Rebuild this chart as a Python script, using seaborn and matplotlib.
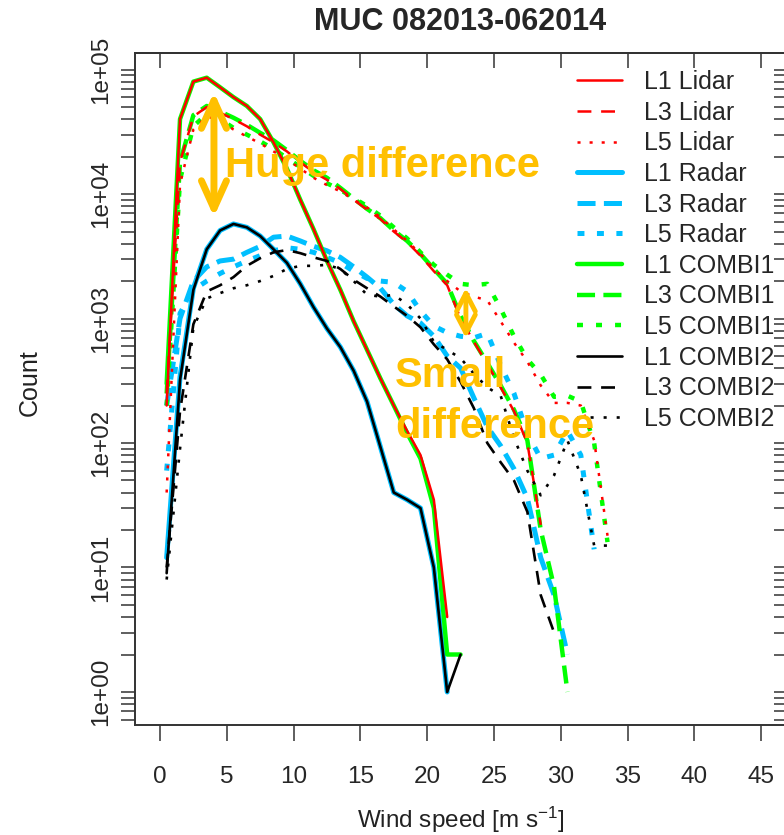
import matplotlib
matplotlib.use("Agg")
import matplotlib.pyplot as plt
import seaborn as sns
import pandas as pd
from matplotlib.lines import Line2D
from matplotlib.ticker import LogLocator, NullFormatter, FixedLocator, FuncFormatter

# ---------------- data ----------------
speed = [0.5, 1.5, 2.5, 3.5, 4.5, 5.5, 6.5, 7.5, 8.5, 9.5, 10.5, 11.5, 12.5, 13.5,
         14.5, 15.5, 16.5, 17.5, 18.5, 19.5, 20.5, 21.5, 22.5, 23.5, 24.5, 25.5,
         26.5, 27.5, 28.5, 29.5, 30.5, 31.5, 32.5, 33.5]

l1_lidar = [200, 40000, 80000, 86000, 72000, 60000, 51000, 40000, 26000, 16000, 9000,
            5200, 2900, 1700, 950, 560, 330, 200, 125, 80, 35, 4]
l3_lidar = [250, 18000, 42000, 50000, 45000, 40000, 35000, 30000, 26000, 22000, 18000,
            15000, 13000, 11000, 9000, 7500, 6300, 5000, 4100, 3200, 2400, 1850, 1000,
            650, 430, 280, 180, 100, 22]
l5_lidar = [40, 12000, 33000, 42000, 39000, 33000, 29000, 25500, 22000, 19000, 16000,
            13500, 11800, 10500, 9000, 7800, 6500, 5200, 4200, 3300, 2500, 2000, 1650,
            1500, 1400, 950, 640, 450, 290, 210, 210, 200, 105, 18]

l1_radar = [12, 340, 1750, 3600, 5100, 5750, 5400, 4600, 3600, 2800, 1900, 1230, 830,
            590, 380, 215, 93, 40, 35, 30, 10, 1]
l3_radar = [200, 1000, 2000, 2600, 2900, 3000, 3400, 3800, 4500, 4600, 4200, 3800, 3500,
            3100, 2600, 2150, 1750, 1300, 1050, 920, 720, 500, 400, 230, 135, 95, 62,
            36, 12, 6, 2]
l5_radar = [60, 1100, 1700, 2000, 2300, 2600, 2900, 3200, 3500, 3700, 3600, 3400, 3100,
            2800, 2400, 2100, 2000, 1950, 1650, 1150, 870, 770, 720, 700, 760, 420, 250,
            120, 75, 80, 125, 80, 14]

l1_combi1 = [300, 40000, 80000, 86000, 72000, 60000, 51000, 40000, 26000, 16000, 9000,
             5200, 2900, 1700, 950, 560, 330, 200, 120, 75, 30, 2, 2]
l3_combi1 = [250, 18000, 43000, 51000, 46000, 41000, 36000, 31000, 27000, 22500, 18500,
             15500, 13500, 11200, 9200, 7600, 6400, 5100, 4200, 3300, 2500, 1900, 1050,
             660, 440, 290, 185, 105, 20, 7, 1]
l5_combi1 = [200, 13000, 35000, 44000, 40000, 34000, 30000, 26500, 23000, 19500, 16500,
             14000, 12200, 10800, 9300, 8000, 6700, 5400, 4400, 3400, 2700, 2250, 1900,
             1850, 1900, 1200, 720, 470, 355, 235, 240, 215, 100, 16]

l1_combi2 = [9, 320, 1700, 3600, 5100, 5750, 5400, 4600, 3600, 2800, 1900, 1230, 830,
             590, 380, 215, 93, 40, 35, 30, 10, 1, 2]
l3_combi2 = [10, 180, 900, 1650, 1850, 2150, 2650, 3050, 3400, 3550, 3350, 3100, 2900,
             2500, 2050, 1750, 1500, 1250, 1050, 850, 620, 470, 310, 190, 100, 70, 50,
             28, 6, 3]
l5_combi2 = [8, 90, 850, 1450, 1600, 1750, 1850, 2000, 2200, 2500, 2650, 2650, 2700, 2500,
             2000, 1550, 1500, 1550, 1300, 1000, 650, 560, 480, 360, 280, 240, 110, 60,
             38, 55, 105, 55, 15, 15]

labels = ["L1 Lidar", "L3 Lidar", "L5 Lidar", "L1 Radar", "L3 Radar", "L5 Radar",
          "L1 COMBI1", "L3 COMBI1", "L5 COMBI1", "L1 COMBI2", "L3 COMBI2", "L5 COMBI2"]
values = [l1_lidar, l3_lidar, l5_lidar, l1_radar, l3_radar, l5_radar,
          l1_combi1, l3_combi1, l5_combi1, l1_combi2, l3_combi2, l5_combi2]

x_ticks = [0, 5, 10, 15, 20, 25, 30, 35, 40, 45]
y_decades = [1, 10, 100, 1000, 10000, 100000]

# ---------------- styles ----------------
RED, BLUE, GREEN, BLACK = "#FF0000", "#00BFFF", "#00FF00", "#000000"
ORANGE = "#FFC000"
styles = {
    "L1 Lidar":  dict(color=RED, lw=1.8, ls="-", z=4),
    "L3 Lidar":  dict(color=RED, lw=1.8, ls=(0, (10, 7)), z=4),
    "L5 Lidar":  dict(color=RED, lw=1.8, ls=(0, (2.2, 6.5)), z=4),
    "L1 Radar":  dict(color=BLUE, lw=3.6, ls="-", z=2),
    "L3 Radar":  dict(color=BLUE, lw=3.6, ls=(0, (13, 6)), z=2),
    "L5 Radar":  dict(color=BLUE, lw=3.6, ls=(0, (5, 9)), z=2),
    "L1 COMBI1": dict(color=GREEN, lw=3.2, ls="-", z=3),
    "L3 COMBI1": dict(color=GREEN, lw=3.2, ls=(0, (13, 6)), z=3),
    "L5 COMBI1": dict(color=GREEN, lw=3.2, ls=(0, (4.3, 9.4)), z=3),
    "L1 COMBI2": dict(color=BLACK, lw=1.9, ls="-", z=5),
    "L3 COMBI2": dict(color=BLACK, lw=1.9, ls=(0, (10, 7)), z=5),
    "L5 COMBI2": dict(color=BLACK, lw=1.9, ls=(0, (2.2, 7.2)), z=5),
}

sns.set_style("white")
plt.rcParams["font.family"] = ["Liberation Sans", "DejaVu Sans"]
plt.rcParams["mathtext.fontset"] = "custom"
plt.rcParams["mathtext.rm"] = "Liberation Sans"
plt.rcParams["mathtext.it"] = "Liberation Sans:italic"
plt.rcParams["mathtext.bf"] = "Liberation Sans:bold"
plt.rcParams["lines.scale_dashes"] = False

W, H = 784, 835
fig = plt.figure(figsize=(W / 100, H / 100), dpi=100)
fig.patch.set_facecolor("white")
ax = fig.add_axes([135 / W, 1 - 725 / H, 651 / W, 672 / H])

for lab, vals in zip(labels, values):
    st = styles[lab]
    df = pd.DataFrame({"speed": speed[:len(vals)], "count": vals})
    sns.lineplot(data=df, x="speed", y="count", ax=ax, color=st["color"],
                 linewidth=st["lw"], linestyle=st["ls"], zorder=st["z"],
                 estimator=None, sort=False, legend=False)

ax.set_yscale("log")
ax.set_xlim(-1.87, 46.86)
ax.set_ylim(0.543, 1.358e5)

EDGE = "#333333"
for s in ax.spines.values():
    s.set_visible(True)
    s.set_color(EDGE)
    s.set_linewidth(1.4)

# left axis: outward log ticks, rotated labels
ax.yaxis.set_major_locator(FixedLocator(y_decades))
ax.yaxis.set_minor_locator(LogLocator(base=10, subs=range(2, 10)))
ax.yaxis.set_major_formatter(FuncFormatter(lambda v, p: format(v, ".0e")))
ax.yaxis.set_minor_formatter(NullFormatter())
ax.tick_params(axis="y", which="both", direction="out", length=10, width=1.1,
               color=EDGE, left=True, right=False, labelsize=17.5, pad=6.5)
for t in ax.get_yticklabels():
    t.set_rotation(90)
    t.set_va("center")

# bottom axis
ax.set_xticks(x_ticks)
ax.tick_params(axis="x", which="both", direction="out", length=11.5, width=1.1,
               color=EDGE, bottom=True, top=False, labelsize=17.5, pad=18)

# top / right inward ticks
secx = ax.secondary_xaxis("top")
secx.set_xticks(x_ticks)
secx.tick_params(direction="in", length=11, width=1.1, color=EDGE, labeltop=False)
secx.spines["top"].set_color(EDGE)
secx.spines["top"].set_linewidth(1.4)

secy = ax.secondary_yaxis("right")
secy.yaxis.set_major_locator(FixedLocator(y_decades))
secy.yaxis.set_minor_locator(LogLocator(base=10, subs=range(2, 10)))
secy.yaxis.set_minor_formatter(NullFormatter())
secy.tick_params(which="both", direction="in", length=8.5, width=1.1, color=EDGE,
                 labelright=False)

ax.set_xlabel("Wind speed [m s$^{-1}$]", fontsize=17.5, color="#222222")
ax.xaxis.label.set_va("center")
ax.xaxis.set_label_coords(0.5, -(820 - 725) / 672)
ax.set_ylabel("Count", fontsize=18, color="#222222")
ax.yaxis.label.set_va("center")
ax.yaxis.set_label_coords((30 - 135) / 651, (725 - 383) / 672)

ax.set_title("MUC 082013-062014", fontsize=22, fontweight="bold",
             y=(725 - 22) / 672, va="center", pad=0)

# legend
handles = [Line2D([], [], color=styles[l]["color"], lw=styles[l]["lw"],
                  linestyle=styles[l]["ls"]) for l in labels]
leg = ax.legend(handles, labels, loc="upper left",
                bbox_to_anchor=(577 / W, 1 - 70 / H), bbox_transform=fig.transFigure,
                frameon=False, fontsize=18, handlelength=1.8, handletextpad=0.9,
                labelspacing=0.265, borderpad=0, borderaxespad=0)

# annotations
ax.annotate("", xy=(4.04, 65900), xytext=(4.04, 6540),
            arrowprops=dict(arrowstyle="<->,head_length=1.0,head_width=0.45",
                            lw=5, color=ORANGE, shrinkA=0, shrinkB=0,
                            mutation_scale=20, capstyle="round", joinstyle="round"),
            zorder=7)
ax.text(4.87, 13700, "Huge difference", fontsize=30, fontweight="bold",
        color=ORANGE, ha="left", va="baseline", zorder=7)

ax.annotate("", xy=(22.9, 1758), xytext=(22.9, 697),
            arrowprops=dict(arrowstyle="<->,head_length=1.0,head_width=0.52",
                            lw=3.5, color=ORANGE, shrinkA=0, shrinkB=0,
                            mutation_scale=13, capstyle="round", joinstyle="round"),
            zorder=7)
ax.text(17.6, 282, "Small", fontsize=30, fontweight="bold",
        color=ORANGE, ha="left", va="baseline", zorder=7)
ax.text(17.6, 110, "difference", fontsize=30, fontweight="bold",
        color=ORANGE, ha="left", va="baseline", zorder=7)

fig.savefig("out.png", dpi=100)
